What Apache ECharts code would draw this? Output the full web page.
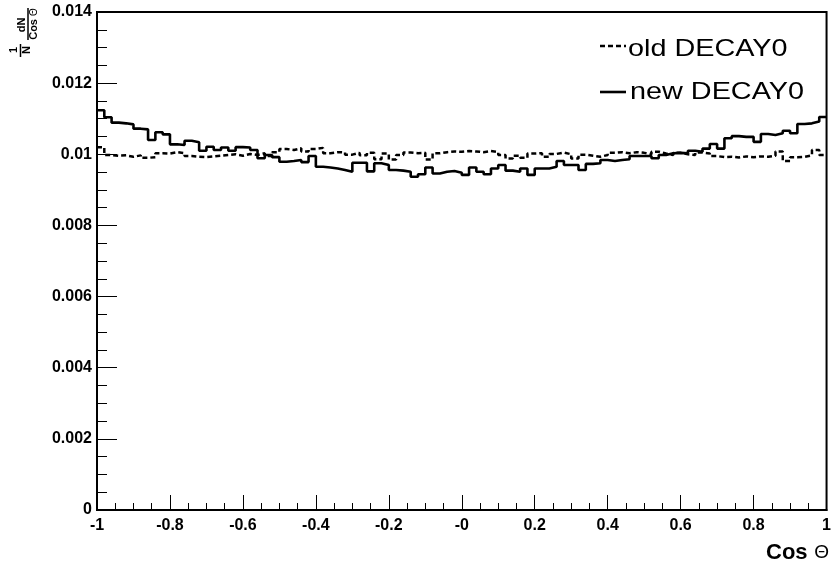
<!DOCTYPE html>
<html><head><meta charset="utf-8">
<script src="https://cdn.jsdelivr.net/npm/echarts@6/dist/echarts.min.js"></script>
<style>html,body{margin:0;padding:0;background:#fff}#c{width:834px;height:570px}</style>
</head><body><div id="c"></div>
<script>
const binLow = -1, binWidth = 0.02;
const oldDecay0 = [
 0.0102, 0.00998, 0.00996, 0.00997, 0.00993, 0.00997, 0.0099, 0.00992, 0.01003, 0.01002,
 0.01006, 0.01003, 0.00995, 0.00993, 0.00992, 0.00994, 0.00996, 0.00998, 0.01, 0.00996,
 0.01001, 0.00998, 0.01003, 0.00995, 0.01006, 0.01015, 0.01012, 0.01017, 0.01008, 0.01015,
 0.01018, 0.01003, 0.01006, 0.01005, 0.00999, 0.01004, 0.00997, 0.01004, 0.00986, 0.01002,
 0.00985, 0.00998, 0.01005, 0.01003, 0.01004, 0.00985, 0.01003, 0.01006, 0.01008, 0.01007,
 0.01009, 0.01008, 0.01006, 0.01009, 0.01006, 0.00998, 0.00988, 0.00996, 0.0099, 0.01002,
 0.01003, 0.00993, 0.01001, 0.01005, 0.01, 0.00988, 0.00999, 0.00996, 0.00993, 0.00998,
 0.01004, 0.01006, 0.01003, 0.01006, 0.01004, 0.01, 0.01007, 0.01002, 0.00998, 0.01004,
 0.01, 0.00998, 0.01005, 0.01002, 0.00995, 0.00992, 0.00993, 0.00991, 0.00994, 0.00992,
 0.00994, 0.00993, 0.00996, 0.01008, 0.00981, 0.00992, 0.00993, 0.00997, 0.01012, 0.00998
];
const newDecay0 = [
 0.01124, 0.01104, 0.01089, 0.01087, 0.01084, 0.01072, 0.0107, 0.0104, 0.01062, 0.01056,
 0.01028, 0.01026, 0.01038, 0.01034, 0.0101, 0.01021, 0.01012, 0.01019, 0.0101, 0.0102,
 0.01019, 0.01012, 0.00989, 0.00998, 0.00992, 0.00979, 0.00981, 0.00984, 0.00978, 0.00995,
 0.00965, 0.00963, 0.0096, 0.00956, 0.00951, 0.00976, 0.00976, 0.00952, 0.00975, 0.0097,
 0.00956, 0.00954, 0.00951, 0.00937, 0.00944, 0.00963, 0.00946, 0.00951, 0.00953, 0.00948,
 0.00942, 0.00963, 0.00951, 0.00944, 0.0096, 0.0097, 0.00954, 0.00951, 0.0096, 0.00942,
 0.0096, 0.0096, 0.00965, 0.00981, 0.0097, 0.0097, 0.00956, 0.00973, 0.00975, 0.00984,
 0.00981, 0.00984, 0.00986, 0.00995, 0.00995, 0.00995, 0.00989, 0.00998, 0.01003, 0.01004,
 0.01003, 0.0101, 0.01007, 0.01016, 0.01029, 0.01016, 0.01045, 0.01051, 0.01049, 0.01049,
 0.01035, 0.01057, 0.01054, 0.01059, 0.01066, 0.01059, 0.01085, 0.01087, 0.01092, 0.01105
];
const xTickLabels = ['-1','-0.8','-0.6','-0.4','-0.2','-0','0.2','0.4','0.6','0.8','1'];
const yTickLabels = ['0','0.002','0.004','0.006','0.008','0.01','0.012','0.014'];
const seriesNames = ['old DECAY0', 'new DECAY0'];
const xTitle = 'Cos', xTitleSym = 'Θ';

function toSteps(vals) {
  const d = [];
  for (let i = 0; i < vals.length; i++) d.push([binLow + i * binWidth, vals[i]]);
  d.push([binLow + vals.length * binWidth, vals[vals.length - 1]]);
  return d;
}
const FF = '"Liberation Sans", Arial, Helvetica, sans-serif';
const chart = echarts.init(document.getElementById('c'), null, {renderer: 'canvas'});
chart.setOption({
  animation: false,
  backgroundColor: '#fff',
  grid: {left: 97, right: 1, top: 12, bottom: 60, show: true, borderColor: '#000', borderWidth: 2, backgroundColor: 'transparent'},
  xAxis: {
    type: 'value', min: -1, max: 1, interval: 0.2,
    axisLine: {show: true, onZero: false, lineStyle: {color: '#000', width: 2}},
    axisTick: {show: true, inside: true, length: 15, lineStyle: {color: '#000', width: 1}},
    minorTick: {show: true, splitNumber: 4, length: 7, lineStyle: {color: '#000', width: 1}},
    splitLine: {show: false}, minorSplitLine: {show: false},
    axisLabel: {show: true, showMinLabel: true, showMaxLabel: true, hideOverlap: false, margin: 8,
      color: '#000', fontFamily: FF, fontWeight: 'bold', fontSize: 16,
      formatter: v => xTickLabels[Math.round((v + 1) / 0.2)]}
  },
  yAxis: {
    type: 'value', min: 0, max: 0.014, interval: 0.002,
    axisLine: {show: true, onZero: false, lineStyle: {color: '#000', width: 2}},
    axisTick: {show: true, inside: true, length: 20, lineStyle: {color: '#000', width: 1}},
    minorTick: {show: true, splitNumber: 4, length: 10, lineStyle: {color: '#000', width: 1}},
    splitLine: {show: false}, minorSplitLine: {show: false},
    axisLabel: {show: true, showMinLabel: true, showMaxLabel: true, margin: 5,
      color: '#000', fontFamily: FF, fontWeight: 'bold', fontSize: 16,
      formatter: v => yTickLabels[Math.round(v / 0.002)]}
  },
  series: [
    {name: seriesNames[0], type: 'line', step: 'end', showSymbol: false, symbol: 'none',
     data: toSteps(oldDecay0), lineStyle: {color: '#000', width: 2.5, type: [5, 3]}, z: 3},
    {name: seriesNames[1], type: 'line', step: 'end', showSymbol: false, symbol: 'none',
     data: toSteps(newDecay0), lineStyle: {color: '#000', width: 2.6, type: 'solid'}, z: 4}
  ],
  graphic: [
    // legend
    {type: 'line', shape: {x1: 600, y1: 46, x2: 626, y2: 46}, style: {stroke: '#000', lineWidth: 2.5, lineDash: [5, 3]}},
    {type: 'text', x: 628, y: 49, scaleX: 1.2, style: {text: seriesNames[0], font: '24px ' + FF, fill: '#000', textAlign: 'left', textVerticalAlign: 'middle', verticalAlign: 'middle'}},
    {type: 'line', shape: {x1: 600, y1: 92, x2: 626, y2: 92}, style: {stroke: '#000', lineWidth: 2.6}},
    {type: 'text', x: 630, y: 92, scaleX: 1.2, style: {text: seriesNames[1], font: '24px ' + FF, fill: '#000', textAlign: 'left', textVerticalAlign: 'middle', verticalAlign: 'middle'}},
    // x title
    {type: 'text', x: 829, y: 553, style: {
      text: '{a|' + xTitle + '}  {b|' + xTitleSym + '}', textAlign: 'right', textVerticalAlign: 'middle', verticalAlign: 'middle', fill: '#000',
      rich: {a: {fontFamily: FF, fontWeight: 'bold', fontSize: 22, fill: '#000'}, b: {fontFamily: FF, fontSize: 19, fill: '#000'}}}},
    // y title: 1/N dN/Cos Θ (rotated)
    {type: 'text', x: 14, y: 50, rotation: Math.PI / 2, style: {text: '1', font: 'bold 11px ' + FF, fill: '#000', textAlign: 'center', textVerticalAlign: 'middle', verticalAlign: 'middle'}},
    {type: 'line', shape: {x1: 20.5, y1: 44, x2: 20.5, y2: 57}, style: {stroke: '#000', lineWidth: 1.5}},
    {type: 'text', x: 27, y: 50, rotation: Math.PI / 2, style: {text: 'N', font: 'bold 11px ' + FF, fill: '#000', textAlign: 'center', textVerticalAlign: 'middle', verticalAlign: 'middle'}},
    {type: 'text', x: 22, y: 25, rotation: Math.PI / 2, style: {text: 'dN', font: 'bold 11px ' + FF, fill: '#000', textAlign: 'center', textVerticalAlign: 'middle', verticalAlign: 'middle'}},
    {type: 'line', shape: {x1: 28, y1: 8, x2: 28, y2: 40}, style: {stroke: '#000', lineWidth: 1.5}},
    {type: 'text', x: 34, y: 24, rotation: Math.PI / 2, style: {
      text: '{a|Cos }{b|Θ}', textAlign: 'center', textVerticalAlign: 'middle', verticalAlign: 'middle', fill: '#000',
      rich: {a: {fontFamily: FF, fontWeight: 'bold', fontSize: 11, fill: '#000'}, b: {fontFamily: FF, fontSize: 10, fill: '#000'}}}}
  ]
});
</script></body></html>
